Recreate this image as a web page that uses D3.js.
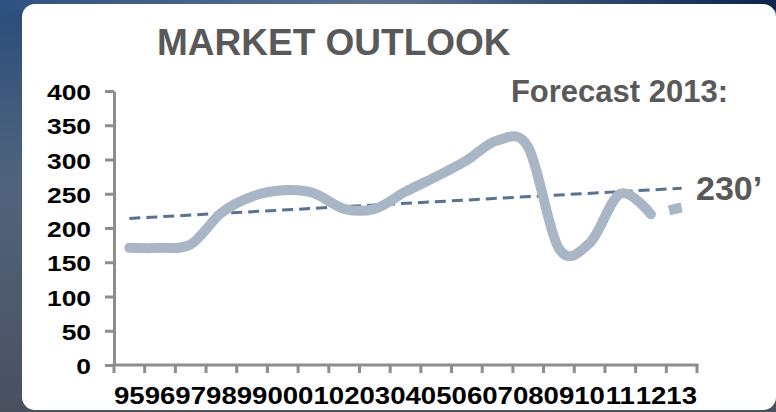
<!DOCTYPE html>
<html>
<head>
<meta charset="utf-8">
<script src="https://cdn.jsdelivr.net/npm/d3@7"></script>
<style>
  html, body { margin: 0; padding: 0; background: #3a5273; }
  svg { display: block; }
  text { font-family: "Liberation Sans", Arial, sans-serif; font-weight: bold; }
</style>
</head>
<body>
<svg id="chart" width="776" height="412"></svg>
<script>
// Years shown on the category axis (1995 … 2013)
const years = ["95","96","97","98","99","00","01","02","03","04","05","06","07","08","09","10","11","12","13"];
// Market values 1995–2012
const actualYears = years.slice(0, 18);
const actualValues = [171, 171, 176, 222, 246, 255, 251, 228, 228, 253, 275, 299, 328, 318, 170, 178, 250, 220];
// Forecast for 2013
const forecastYear = "13";
const forecastValue = 230;
// Trend line end points
const trendYears = ["95", "13"];
const trendValues = [214, 258];
// Value-axis ticks
const yTicks = [0, 50, 100, 150, 200, 250, 300, 350, 400];

const svg = d3.select("#chart");
const W = 776, H = 412;

// Backdrop
const defs = svg.append("defs");
const gV = defs.append("linearGradient").attr("id", "bgV").attr("x1", 0).attr("y1", 0).attr("x2", 0).attr("y2", 1);
gV.append("stop").attr("offset", "0%").attr("stop-color", "#2a4d7c");
gV.append("stop").attr("offset", "45%").attr("stop-color", "#52647c");
gV.append("stop").attr("offset", "100%").attr("stop-color", "#4a505e");
const gH = defs.append("linearGradient").attr("id", "bgH").attr("x1", 0).attr("y1", 0).attr("x2", 1).attr("y2", 0);
gH.append("stop").attr("offset", "0%").attr("stop-color", "#2e5282");
gH.append("stop").attr("offset", "50%").attr("stop-color", "#5f7390");
gH.append("stop").attr("offset", "80%").attr("stop-color", "#2a4368");
gH.append("stop").attr("offset", "100%").attr("stop-color", "#0c2550");

svg.append("rect").attr("width", W).attr("height", H).attr("fill", "url(#bgV)");
svg.append("rect").attr("width", W).attr("height", 10).attr("fill", "url(#bgH)");

// White card
svg.append("rect")
  .attr("x", 22).attr("y", 4)
  .attr("width", 754).attr("height", 406)
  .attr("rx", 13).attr("ry", 13)
  .attr("fill", "#ffffff");

// Scales
const x = d3.scaleBand().domain(years).range([114, 697]).padding(0);
const y = d3.scaleLinear().domain([0, 400]).range([365, 91]);
const cx = d => x(d) + x.bandwidth() / 2;

const axisColor = "#8d8d8d";

// Value axis
const yAxis = svg.append("g")
  .attr("transform", `translate(${x.range()[0]},0)`)
  .call(d3.axisLeft(y).tickValues(yTicks).tickSize(9).tickSizeOuter(0).tickPadding(0));
yAxis.select(".domain").attr("stroke", axisColor).attr("stroke-width", 3);
yAxis.selectAll(".tick line").attr("stroke", axisColor).attr("stroke-width", 3);
yAxis.selectAll(".tick text")
  .attr("x", -23 / 1.2)
  .attr("dy", "8.5")
  .attr("transform", "scale(1.2,1)")
  .attr("text-anchor", "end")
  .attr("fill", "#000")
  .style("font-size", "22px");

// Category axis: line, boundary ticks, centred labels
const xg = svg.append("g");
xg.append("line")
  .attr("x1", x.range()[0] - 1.5).attr("x2", x.range()[1] + 1.5)
  .attr("y1", y(0)).attr("y2", y(0))
  .attr("stroke", axisColor).attr("stroke-width", 3);
const bounds = years.map(d => x(d)).concat([x.range()[1]]);
xg.selectAll("line.tk").data(bounds).join("line")
  .attr("class", "tk")
  .attr("x1", d => d).attr("x2", d => d)
  .attr("y1", y(0)).attr("y2", y(0) + 8)
  .attr("stroke", axisColor).attr("stroke-width", 3);
xg.selectAll("text.lb").data(years).join("text")
  .attr("class", "lb")
  .attr("transform", d => `translate(${cx(d)},403.5) scale(1.15,1)`)
  .attr("text-anchor", "middle")
  .attr("fill", "#000")
  .style("font-size", "24px")
  .text(d => d);

// Trend line
const trend = trendYears.map((d, i) => ({ year: d, value: trendValues[i] }));
svg.append("path")
  .datum(trend)
  .attr("d", d3.line().x(d => cx(d.year)).y(d => y(d.value)))
  .attr("fill", "none")
  .attr("stroke", "#5a7191")
  .attr("stroke-width", 3)
  .attr("stroke-dasharray", "11 6");

// Market series (smoothed)
const series = actualYears.map((d, i) => ({ year: d, value: actualValues[i] }));
svg.append("path")
  .datum(series)
  .attr("d", d3.line().x(d => cx(d.year)).y(d => y(d.value)).curve(d3.curveCatmullRom.alpha(0)))
  .attr("fill", "none")
  .attr("stroke", "#a9b6c5")
  .attr("stroke-width", 10)
  .attr("stroke-linecap", "round")
  .attr("stroke-linejoin", "round");

// Forecast segment (dashed)
const last = series[series.length - 1];
const fc = svg.append("path")
  .datum([last, { year: forecastYear, value: forecastValue }])
  .attr("d", d3.line().x(d => cx(d.year)).y(d => y(d.value)))
  .attr("fill", "none")
  .attr("stroke", "#a9b6c5")
  .attr("stroke-width", 10)
  .attr("stroke-linecap", "butt");
const L = fc.node().getTotalLength();
fc.attr("stroke-dasharray", `0 ${L - 13} 13`);

// Titles and annotation
svg.append("text")
  .attr("x", 157).attr("y", 55)
  .attr("fill", "#595959")
  .style("font-size", "37px")
  .text("MARKET OUTLOOK");

svg.append("text")
  .attr("x", 728).attr("y", 101.5)
  .attr("text-anchor", "end")
  .attr("fill", "#595959")
  .style("font-size", "31px")
  .text("Forecast 2013:");

svg.append("text")
  .attr("x", 696).attr("y", 200)
  .attr("fill", "#595959")
  .style("font-size", "34px")
  .text(forecastValue + "’");
</script>
</body>
</html>
